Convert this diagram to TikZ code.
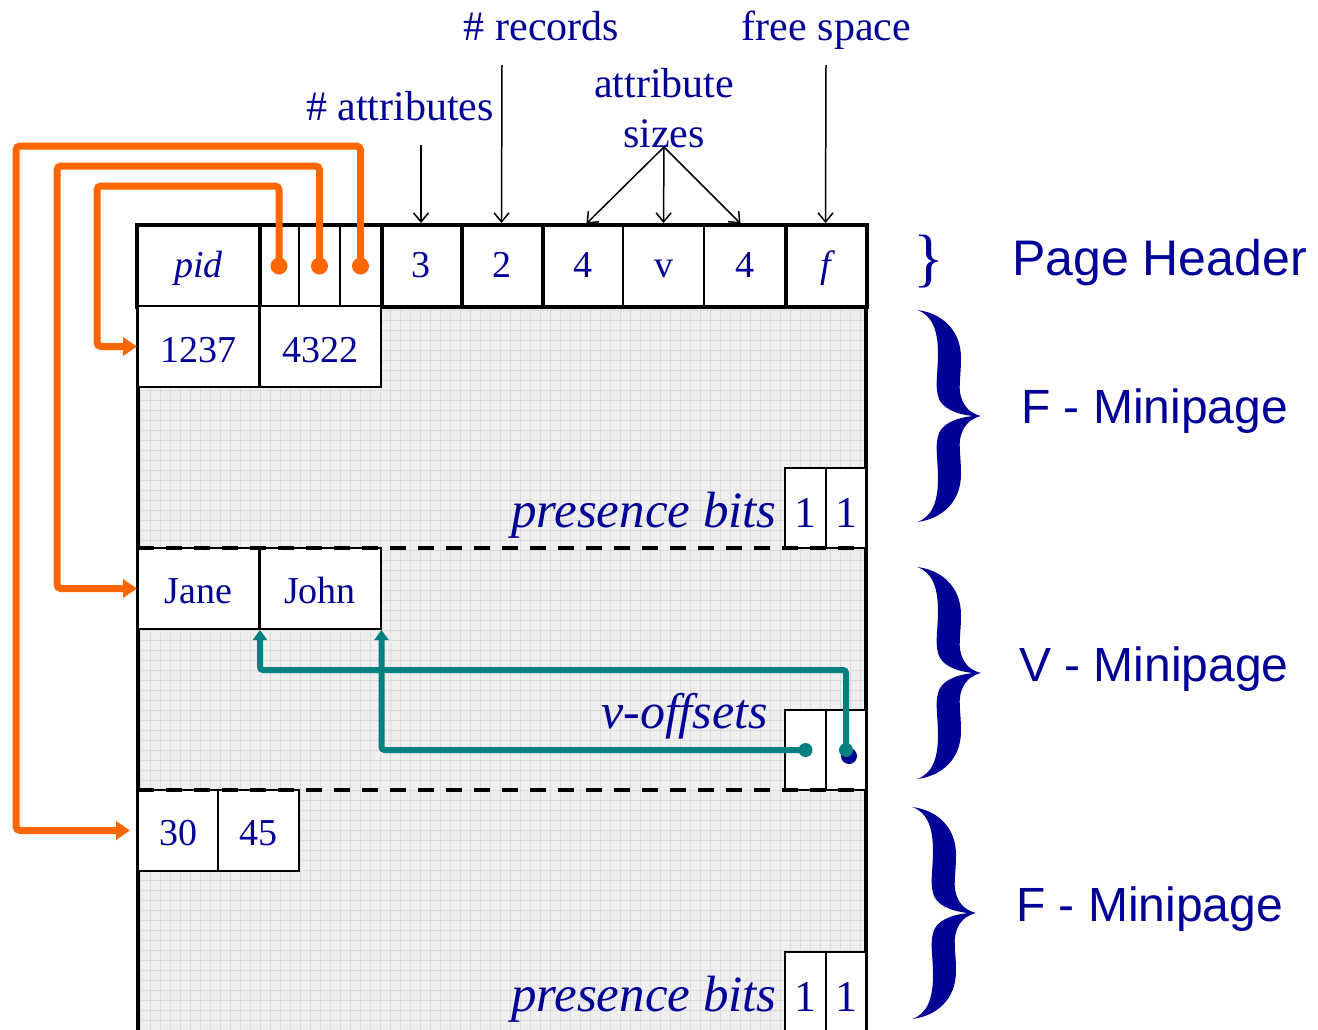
\documentclass[tikz,border=0pt]{standalone}
\usepackage{fontspec}
\setmainfont{Liberation Serif}
\newfontfamily\hsans{Liberation Sans}
\usetikzlibrary{arrows.meta,calc}
\definecolor{ink}{RGB}{0,0,150}
\definecolor{ptrorange}{RGB}{255,102,0}
\definecolor{offteal}{RGB}{0,128,128}
\definecolor{gridbg}{RGB}{239,239,239}
\definecolor{gridln}{RGB}{220,220,220}

\tikzset{
  cell/.style={draw=black, line width=2pt, fill=white, inner sep=0pt, text=ink,
    minimum height=81pt, text height=29pt, text depth=0pt, font=\fontsize{38}{40}\selectfont},
  hcell/.style={cell, minimum height=80pt, text height=22pt},
  bitcell/.style={cell, minimum width=40.5pt, minimum height=80pt, text height=38pt,
    font=\fontsize{44}{46}\selectfont},
  lab/.style={inner sep=0pt, text=ink, font=\fontsize{42}{48}\selectfont},
  itlab/.style={inner sep=0pt, text=ink, font=\itshape\fontsize{51}{56}\selectfont},
  big/.style={inner sep=0pt, text=ink, font=\hsans\fontsize{48}{56}\selectfont},
  thickrule/.style={line width=3.5pt, line cap=rect},
  sepdash/.style={line width=4pt, dash pattern=on 16pt off 12pt},
  lblarrow/.style={line width=1.5pt, -{Straight Barb[length=9pt,width=15pt]}, shorten >=2pt},
  optr/.style={draw=ptrorange, line width=7pt, rounded corners=4pt,
    -{Triangle[length=14pt,width=18pt]}},
  vptr/.style={draw=offteal, line width=6pt, rounded corners=3pt,
    -{Triangle[length=10pt,width=14pt]}},
  odot/.style={circle, fill=ptrorange, minimum size=17pt, inner sep=0pt},
  tdot/.style={circle, fill=offteal, minimum size=14pt, inner sep=0pt},
  ndot/.style={circle, fill=ink, minimum size=16pt, inner sep=0pt},
  bigbrace/.pic={
    \fill[ink] (0,0) .. controls (25,3) and (44,20) .. (44,48)
      .. controls (44,70) and (40,80) .. (46,92)
      .. controls (50,100) and (56,104) .. (64,106)
      .. controls (56,108) and (50,112) .. (46,120)
      .. controls (40,132) and (44,142) .. (44,164)
      .. controls (44,192) and (25,209) .. (0,212)
      .. controls (15,207) and (21,192) .. (21,168)
      .. controls (21,150) and (18,138) .. (21,126)
      .. controls (24,114) and (38,108) .. (56,106)
      .. controls (38,104) and (24,98) .. (21,86)
      .. controls (18,74) and (21,62) .. (21,44)
      .. controls (21,20) and (15,5) .. (0,0) -- cycle;
  }
}

\begin{document}
\begin{tikzpicture}[x=1pt,y=-1pt]
\useasboundingbox (0,0) rectangle (1318,1029);
\clip (0,0) rectangle (1318,1029);

% page body: light squared paper
\fill[gridbg] (138,306) rectangle (866,1045);
\draw[gridln, line width=0.8pt, step=10pt] (138,1045) grid (866,306);
\draw[thickrule] (138,306) -- (138,1045);
\draw[thickrule] (866,306) -- (866,1045);

% header cells
\node[hcell, minimum width=121pt, font=\itshape\fontsize{38}{40}\selectfont] (pid) at (198.5,266) {pid};
\node[hcell, minimum width=40pt] (p1) at (279,266) {};
\node[hcell, minimum width=41pt] (p2) at (319.5,266) {};
\node[hcell, minimum width=41pt] (p3) at (360.5,266) {};
\node[hcell, minimum width=80pt] (c3) at (421,266) {3};
\node[hcell, minimum width=81pt] (c2) at (501.5,266) {2};
\node[hcell, minimum width=81pt] (s1) at (582.5,266) {4};
\node[hcell, minimum width=81pt] (sv) at (663.5,266) {v};
\node[hcell, minimum width=81pt] (s2) at (744.5,266) {4};
\node[hcell, minimum width=81pt, font=\itshape\fontsize{38}{40}\selectfont] (fs) at (825.5,266) {f};
\draw[thickrule] (pid.north west) rectangle (fs.south east);
\foreach \n in {pid,p3,c3,c2,s2}
  \draw[thickrule] (\n.north east) -- (\n.south east);

% F-minipage (top)
\node[cell, minimum width=121pt, text height=31pt] (c1237) at (198.5,346.5) {1237};
\node[cell, minimum width=121pt, text height=31pt] (c4322) at (320,346.5) {4322};
\node[bitcell] (pb1) at (805.5,508) {1};
\node[bitcell] (pb2) at (846,508) {1};
\node[itlab, anchor=base east] (pbits1) at (777,527) {presence bits};

% V-minipage
\node[cell, minimum width=121pt] (jane) at (198.5,588.5) {Jane};
\node[cell, minimum width=121pt] (john) at (320,588.5) {John};
\node[bitcell] (vo1) at (805.5,750) {};
\node[bitcell] (vo2) at (846,750) {};
\node[itlab, anchor=base east, font=\itshape\fontsize{50}{56}\selectfont] (voff) at (768,728) {v-offsets};

% F-minipage (bottom)
\node[cell, minimum width=80pt] (c30) at (178,830.5) {30};
\node[cell, minimum width=81pt] (c45) at (258.5,830.5) {45};
\node[bitcell] (pb3) at (805.5,992) {1};
\node[bitcell] (pb4) at (846,992) {1};
\node[itlab, anchor=base east] (pbits2) at (777,1011) {presence bits};

% minipage boundaries
\draw[sepdash] (138,548) -- (866,548);
\draw[sepdash] (138,790) -- (866,790);

% header field labels
\node[lab, anchor=base] (records) at (541.5,40) {\# records};
\node[lab, anchor=base] (freesp) at (826.5,40) {free space};
\node[lab, anchor=base] (attrs) at (400,120) {\# attributes};
\node[lab, anchor=base] (attrib) at (664,97) {attribute};
\node[lab, anchor=base] (sizes) at (664,147) {sizes};
\coordinate (aAttr) at (421,145);
\coordinate (aRec) at (502,65);
\coordinate (aFree) at (826,65);
\draw[lblarrow] (aAttr) -- (c3.north);
\draw[lblarrow] (aRec) -- (c2.north);
\draw[lblarrow] (aFree) -- (fs.north);
\draw[lblarrow] (sizes.base) -- ($(s1.north)+(2.5,0)$);
\draw[lblarrow] (sizes.base) -- (sv.north);
\draw[lblarrow] (sizes.base) -- ($(s2.north)+(-2.5,0)$);

% minipage pointers in the header
\node[odot] (d1) at (p1.center) {};
\node[odot] (d2) at (p2.center) {};
\node[odot] (d3) at (p3.center) {};
\coordinate (k1) at (97,186);
\coordinate (k2) at (57,166);
\coordinate (k3) at (16,146);
\draw[optr] (d1.center) |- (k1) |- (c1237.west);
\draw[optr] (d2.center) |- (k2) |- (jane.west);
\draw[optr, shorten >=7pt] (d3.center) |- (k3) |- (c30.west);

% variable-length offsets
\node[tdot] (t1) at (vo1.center) {};
\node[ndot] (vend) at (849,756) {};
\node[tdot] (t2) at (vo2.center) {};
\draw[vptr] (t1.center) -| (john.south east);
\draw[vptr] (t2.center) |- ($(jane.south east)+(0,40)$) -- (jane.south east);

% braces and region names
\node[inner sep=0pt, text=ink, font=\fontsize{64}{64}\selectfont] (hbrace) at (929,262) {\}};
\pic at (917,310) {bigbrace};
\pic at (917,567) {bigbrace};
\pic at (912,807) {bigbrace};
\node[big, font=\hsans\fontsize{50}{56}\selectfont, anchor=base west] (ph) at (1012,275) {Page Header};
\node[big, anchor=base west] (fm1) at (1021,423) {F - Minipage};
\node[big, anchor=base west] (vm) at (1019,681) {V - Minipage};
\node[big, anchor=base west] (fm2) at (1016,921) {F - Minipage};
\end{tikzpicture}
\end{document}
